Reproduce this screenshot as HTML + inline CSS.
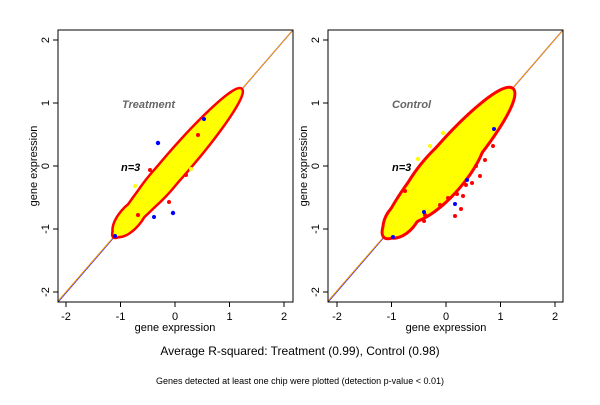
<!DOCTYPE html>
<html><head><style>
body{margin:0;background:#fff;}
svg text{font-family:"Liberation Sans",sans-serif;}
</style></head><body>
<svg width="600" height="400" viewBox="0 0 600 400" xmlns="http://www.w3.org/2000/svg">
<rect width="600" height="400" fill="#fff"/>
<defs>
<clipPath id="c1"><rect x="58" y="30" width="235" height="272"/></clipPath>
<clipPath id="c2"><rect x="328" y="30" width="235" height="272"/></clipPath>
</defs>
<!-- Left panel -->
<g clip-path="url(#c1)">
<line x1="58" y1="302" x2="293" y2="30" stroke="#3333ff" stroke-width="1.2"/>
<line x1="58" y1="301" x2="293" y2="30" stroke="#ff9900" stroke-width="1"/>
<g fill="#ff0000" stroke="#ff0000" stroke-width="5" stroke-linejoin="round">
<ellipse cx="177.5" cy="163" rx="97" ry="12" transform="rotate(-49.1 177.5 163)"/>
<ellipse cx="162" cy="181" rx="48" ry="12" transform="rotate(-49.1 162 181)"/>
<ellipse cx="130" cy="218" rx="22" ry="10" transform="rotate(-49.1 130 218)"/>
</g>
<g fill="#ffff00">
<ellipse cx="177.5" cy="163" rx="97" ry="12" transform="rotate(-49.1 177.5 163)"/>
<ellipse cx="162" cy="181" rx="48" ry="12" transform="rotate(-49.1 162 181)"/>
<ellipse cx="130" cy="218" rx="22" ry="10" transform="rotate(-49.1 130 218)"/>
</g>
<g fill="#0000ff"><circle cx="158" cy="143" r="2.2"/><circle cx="173" cy="213" r="2.2"/><circle cx="204" cy="119" r="2"/><circle cx="115" cy="236" r="2"/><circle cx="154" cy="217" r="2"/></g>
<g fill="#ff0000"><circle cx="150" cy="170" r="2"/><circle cx="169" cy="202" r="2"/><circle cx="198" cy="135" r="2"/><circle cx="138" cy="215" r="2"/><circle cx="186" cy="175" r="2"/></g>
<g fill="#ffff00"><circle cx="135" cy="186" r="2"/><circle cx="191" cy="169" r="2"/><circle cx="212" cy="112" r="2"/></g>
</g>
<rect x="58" y="30" width="235" height="272" fill="none" stroke="#000" stroke-width="1"/>
<g stroke="#000"><line x1="66" y1="302" x2="66" y2="307"/><line x1="120.5" y1="302" x2="120.5" y2="307"/><line x1="175" y1="302" x2="175" y2="307"/><line x1="229.5" y1="302" x2="229.5" y2="307"/><line x1="284" y1="302" x2="284" y2="307"/>
<line x1="53" y1="40" x2="58" y2="40"/><line x1="53" y1="103" x2="58" y2="103"/><line x1="53" y1="166" x2="58" y2="166"/><line x1="53" y1="229" x2="58" y2="229"/><line x1="53" y1="292" x2="58" y2="292"/></g>
<g font-size="11" text-anchor="middle"><text x="66" y="320">-2</text><text x="120.5" y="320">-1</text><text x="175" y="320">0</text><text x="229.5" y="320">1</text><text x="284" y="320">2</text>
<text transform="translate(49,40) rotate(-90)">2</text><text transform="translate(49,103) rotate(-90)">1</text><text transform="translate(49,166) rotate(-90)">0</text><text transform="translate(49,229) rotate(-90)">-1</text><text transform="translate(49,292) rotate(-90)">-2</text></g>
<text x="175" y="331" font-size="11" text-anchor="middle">gene expression</text>
<text transform="translate(37,166) rotate(-90)" font-size="11" text-anchor="middle">gene expression</text>
<text x="122" y="108" font-size="11" font-weight="bold" font-style="italic" fill="#666">Treatment</text>
<text x="121" y="171" font-size="11" font-weight="bold" font-style="italic">n=3</text>
<!-- Right panel -->
<g clip-path="url(#c2)">
<line x1="328" y1="302" x2="563" y2="30" stroke="#3333ff" stroke-width="1.2"/>
<line x1="328" y1="301" x2="563" y2="30" stroke="#ff9900" stroke-width="1"/>
<g fill="#ff0000" stroke="#ff0000" stroke-width="6" stroke-linejoin="round">
<ellipse cx="448.5" cy="163" rx="97" ry="18" transform="rotate(-49.1 448.5 163)"/>
<ellipse cx="442" cy="174" rx="60" ry="21" transform="rotate(-49.1 442 174)"/>
<ellipse cx="402" cy="218" rx="22" ry="13" transform="rotate(-49.1 402 218)"/>
</g>
<g fill="#ffff00">
<ellipse cx="448.5" cy="163" rx="97" ry="18" transform="rotate(-49.1 448.5 163)"/>
<ellipse cx="442" cy="174" rx="60" ry="21" transform="rotate(-49.1 442 174)"/>
<ellipse cx="402" cy="218" rx="22" ry="13" transform="rotate(-49.1 402 218)"/>
</g>
<g fill="#ff0000"><circle cx="405" cy="191" r="2"/><circle cx="425" cy="215" r="2"/><circle cx="455" cy="216" r="2"/><circle cx="461" cy="209" r="2"/><circle cx="463" cy="196" r="2"/><circle cx="480" cy="176" r="2"/><circle cx="493" cy="146" r="2"/><circle cx="466" cy="185" r="2"/><circle cx="472" cy="183" r="2"/><circle cx="485" cy="160" r="2"/><circle cx="424" cy="221" r="2"/><circle cx="457" cy="194" r="2"/><circle cx="440" cy="205" r="2"/><circle cx="448" cy="198" r="2"/><circle cx="476" cy="166" r="2"/></g>
<g fill="#0000ff"><circle cx="467" cy="180" r="2"/><circle cx="455" cy="204" r="2"/><circle cx="494" cy="129" r="2"/><circle cx="393" cy="237" r="2"/><circle cx="424" cy="212" r="2"/></g>
<g fill="#ffff00"><circle cx="418" cy="159" r="2.2"/><circle cx="443" cy="133" r="2.2"/><circle cx="478" cy="113" r="2.2"/><circle cx="415" cy="180" r="2"/><circle cx="430" cy="146" r="2"/></g>
</g>
<rect x="328" y="30" width="235" height="272" fill="none" stroke="#000" stroke-width="1"/>
<g stroke="#000"><line x1="337" y1="302" x2="337" y2="307"/><line x1="391.5" y1="302" x2="391.5" y2="307"/><line x1="446" y1="302" x2="446" y2="307"/><line x1="500.5" y1="302" x2="500.5" y2="307"/><line x1="555" y1="302" x2="555" y2="307"/>
<line x1="323" y1="40" x2="328" y2="40"/><line x1="323" y1="103" x2="328" y2="103"/><line x1="323" y1="166" x2="328" y2="166"/><line x1="323" y1="229" x2="328" y2="229"/><line x1="323" y1="292" x2="328" y2="292"/></g>
<g font-size="11" text-anchor="middle"><text x="337" y="320">-2</text><text x="391.5" y="320">-1</text><text x="446" y="320">0</text><text x="500.5" y="320">1</text><text x="555" y="320">2</text>
<text transform="translate(319,40) rotate(-90)">2</text><text transform="translate(319,103) rotate(-90)">1</text><text transform="translate(319,166) rotate(-90)">0</text><text transform="translate(319,229) rotate(-90)">-1</text><text transform="translate(319,292) rotate(-90)">-2</text></g>
<text x="446" y="331" font-size="11" text-anchor="middle">gene expression</text>
<text transform="translate(307,166) rotate(-90)" font-size="11" text-anchor="middle">gene expression</text>
<text x="392" y="108" font-size="11" font-weight="bold" font-style="italic" fill="#666">Control</text>
<text x="392" y="171" font-size="11" font-weight="bold" font-style="italic">n=3</text>
<text x="300" y="355" font-size="12" text-anchor="middle">Average R-squared: Treatment (0.99), Control (0.98)</text>
<text x="300" y="384" font-size="9" text-anchor="middle">Genes detected at least one chip were plotted (detection p-value &lt; 0.01)</text>
</svg>
</body></html>
